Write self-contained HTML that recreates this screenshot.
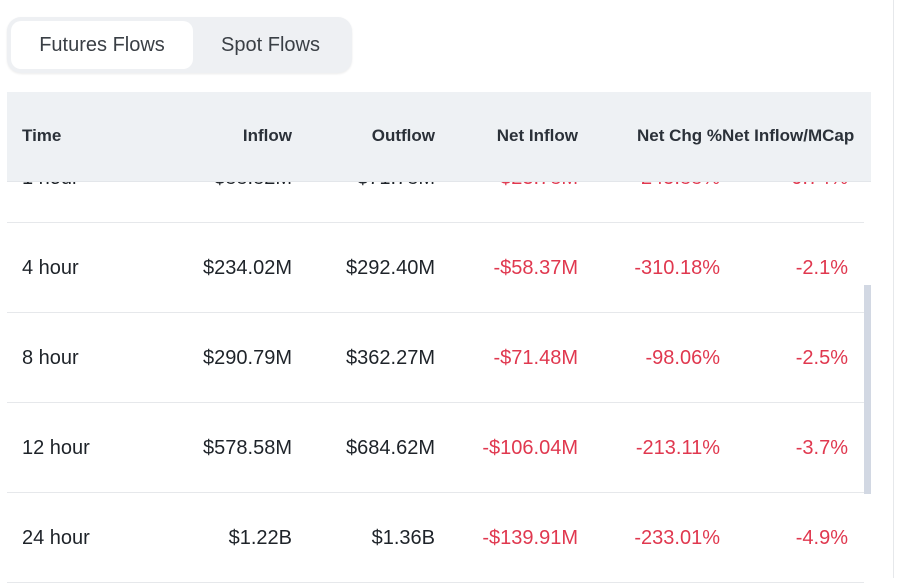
<!DOCTYPE html>
<html><head><meta charset="utf-8"><style>
body{margin:0;width:903px;height:578px;background:#fff;font-family:"Liberation Sans",sans-serif;position:relative;overflow:hidden;color:#1e2329}
.abs{position:absolute}
.tabs{left:7px;top:17px;width:345px;height:56px;background:#eef0f3;border-radius:14px;box-shadow:0 1px 2px rgba(0,0,0,.08)}
.tab{top:4px;height:48px;line-height:48px;font-size:20px;color:#3a3f45;text-align:center}
.head{left:7px;top:92px;width:864px;height:89px;background:#eef1f4;z-index:2;border-bottom:1px solid #e3e6ea}
.h{top:0;line-height:88px;font-size:17px;font-weight:bold;color:#2b3139;white-space:nowrap}
.row{left:7px;width:857px;height:90px;border-bottom:1px solid #e6e8eb}
.c{line-height:92px;font-size:20px;white-space:nowrap;top:0}
.r{color:#e0384f}
</style></head><body>
<div class="abs tabs">
 <div class="abs tab" style="left:4px;width:182px;background:#fff;border-radius:10px">Futures Flows</div>
 <div class="abs tab" style="left:186px;width:155px">Spot Flows</div>
</div>
<div class="abs head">
 <div class="abs h" style="left:15px">Time</div>
 <div class="abs h" style="right:579px">Inflow</div>
 <div class="abs h" style="right:436px">Outflow</div>
 <div class="abs h" style="right:293px">Net Inflow</div>
 <div class="abs h" style="left:630px">Net Chg %Net Inflow/MCap</div>
</div>
<div id="rows"></div>
<div class="abs" style="left:864px;top:285px;width:7px;height:209px;background:#d2d8e3"></div>
<div class="abs" style="left:893px;top:0;width:1px;height:578px;background:#e6e8eb"></div>
<script>
const times=["1 hour","4 hour","8 hour","12 hour","24 hour"];
const inflow=["$88.82M","$234.02M","$290.79M","$578.58M","$1.22B"];
const outflow=["$71.78M","$292.40M","$362.27M","$684.62M","$1.36B"];
const net=["-$23.78M","-$58.37M","-$71.48M","-$106.04M","-$139.91M"];
const chg=["-245.88%","-310.18%","-98.06%","-213.11%","-233.01%"];
const mcap=["-0.74%","-2.1%","-2.5%","-3.7%","-4.9%"];
const host=document.getElementById('rows');
times.forEach((t,i)=>{
 const row=document.createElement('div');
 row.className='abs row';
 row.style.top=(132+i*90)+'px';
 
 
 const cells=[[t,'left:15px',''],[inflow[i],'right:572px',''],[outflow[i],'right:429px',''],[net[i],'right:286px','r'],[chg[i],'right:144px','r'],[mcap[i],'right:16px','r']];
 const names=['time','inflow','outflow','net-inflow','net-chg','net-inflow-mcap'];
 cells.forEach((c,j)=>{
  const d=document.createElement('div');
  d.className='abs c '+c[2];
  d.style.cssText+=c[1];
  d.textContent=c[0];
  
  
  row.appendChild(d);
 });
 host.appendChild(row);
});
</script>
</body></html>
